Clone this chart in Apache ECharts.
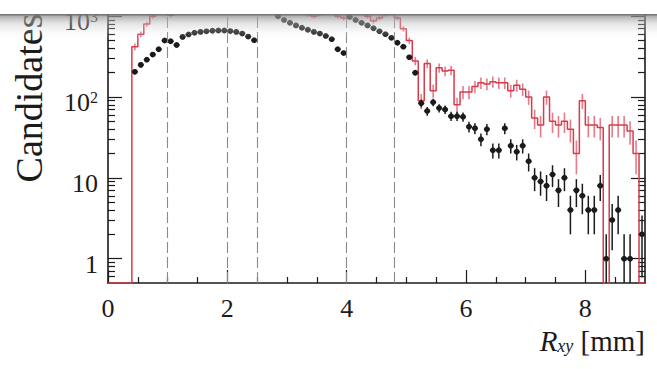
<!DOCTYPE html>
<html>
<head>
<meta charset="utf-8">
<script src="https://cdn.jsdelivr.net/npm/echarts@6/dist/echarts.min.js"></script>
<style>
  html, body { margin: 0; padding: 0; background: #fff; }
  #chart { width: 657px; height: 369px; }
</style>
</head>
<body>
<div id="chart"></div>
<script>
// Binning of the transverse decay radius R_xy (mm)
const X_MIN = 0, X_MAX = 9, BIN_WIDTH = 0.1;
const binCenters = Array.from({ length: 90 }, (_, i) => +(X_MIN + BIN_WIDTH * (i + 0.5)).toFixed(2));

// Vertical range of the log axis
const Y_MIN = 0.5, Y_MAX = 1065;

// Observed candidates per bin (null = empty bin)
const dataCounts = [
  null, null, null, null, 205, 250, 290, 335, 390, 500,
  490, 440, 555, 595, 625, 640, 650, 660, 665, 665,
  655, 640, 610, 560, 505, 1700, 1450, 1200, 1000, 900,
  830, 770, 720, 680, 640, 610, 570, 520, 390, 350,
  980, 900, 830, 770, 710, 650, 600, 540, 470, 420,
  310, 200, 84, 67, 86, 73, 70, 58, 58, 57,
  43, 41, 30, 40, 22, 22, 41, 25, 21, 25,
  16, 10, 9, 8, 11, 7, 10, 4, 7, 6,
  4, 4, 8, 1, 3, 4, 1, 1, null, 2
];

// Simulated candidates per bin
const simCounts = [
  0, 0, 0, 0, 420, 600, 800, 1000, 1300, 1500,
  1030, 1600, 1800, 2000, 2100, 2200, 2300, 2300, 2400, 2400,
  2400, 2300, 2200, 2100, 2000, 3000, 2800, 2500, 2200, 2000,
  1800, 1500, 1150, 1050, 1000, 1060, 1120, 1100, 1000, 950,
  1500, 1400, 1200, 1000, 870, 950, 1050, 1100, 950, 700,
  500, 280, 90, 260, 120, 230, 210, 215, 80, 115,
  115, 135, 150, 145, 155, 150, 150, 120, 140, 125,
  100, 55, 45, 100, 50, 45, 50, 40, 20, 90,
  45, 45, 42, 0, 45, 45, 45, 38, 20, 0
];
// Simulated events carry weight 4, so the bin error is sqrt(4 N)
const SIM_WEIGHT = 4;

// Boundaries between detector regions
const regionBoundaries = [1, 2, 2.5, 4, 4.8];

// Axis ticks
const xMajorTicks = [0, 2, 4, 6, 8];
const xMinorTicks = [0.5, 1, 1.5, 2.5, 3, 3.5, 4.5, 5, 5.5, 6.5, 7, 7.5, 8.5];
const yMajorTicks = [1, 10, 100, 1000];
const yMinorTicks = [0.6, 0.7, 0.8, 0.9, 2, 3, 4, 5, 6, 7, 8, 9,
  20, 30, 40, 50, 60, 70, 80, 90, 200, 300, 400, 500, 600, 700, 800, 900];

const FONT = '"Liberation Serif", "Times New Roman", serif';
const INK = '#1b1b1b';
const RED = '#d63c4c';
const RED_ERR = 'rgba(218, 60, 82, 0.68)';

const clampY = v => Math.min(Math.max(v, Y_MIN), Y_MAX);

const dataPoints = [];
binCenters.forEach((c, i) => { if (dataCounts[i] != null) dataPoints.push([c, dataCounts[i]]); });

const simErrPoints = [];
binCenters.forEach((c, i) => { if (simCounts[i] > 0) simErrPoints.push([c, simCounts[i]]); });

// Step outline of the simulation, closed at both frame edges
const simStep = [[X_MIN, clampY(simCounts[0])]];
binCenters.forEach((c, i) => simStep.push([c, Math.max(simCounts[i], Y_MIN)]));
simStep.push([X_MAX, Math.max(simCounts[simCounts.length - 1], Y_MIN)]);

function powerLabel(v) {
  const p = Math.round(Math.log10(v));
  if (p === 0) return '1';
  if (p === 1) return '10';
  return '10{sup|' + p + '}';
}

function renderData(params, api) {
  const x = api.value(0), v = api.value(1);
  if (!(v > 0) || v > Y_MAX) return null;
  const e = Math.sqrt(v);
  const top = api.coord([x, clampY(v + e)]);
  const bot = api.coord([x, clampY(v - e)]);
  const left = api.coord([x - BIN_WIDTH / 2, v]);
  const right = api.coord([x + BIN_WIDTH / 2, v]);
  const c = api.coord([x, v]);
  const st = { stroke: INK, lineWidth: 1.5 };
  return {
    type: 'group',
    children: [
      { type: 'line', shape: { x1: top[0], y1: top[1], x2: bot[0], y2: bot[1] }, style: st },
      { type: 'line', shape: { x1: left[0], y1: left[1], x2: right[0], y2: right[1] }, style: st },
      { type: 'circle', shape: { cx: c[0], cy: c[1], r: 2.9 }, style: { fill: INK } }
    ]
  };
}

function renderSimErr(params, api) {
  const x = api.value(0), v = api.value(1);
  if (!(v > 0) || v > Y_MAX * 1.3) return null;
  const e = Math.sqrt(SIM_WEIGHT * v);
  const top = api.coord([x, clampY(v + e)]);
  const bot = api.coord([x, clampY(v - e)]);
  return {
    type: 'line',
    shape: { x1: top[0], y1: top[1], x2: bot[0], y2: bot[1] },
    style: { stroke: RED_ERR, lineWidth: 1.6 }
  };
}

const axisLineStyle = { color: INK, width: 1.6 };
const tickStyle = { color: INK, width: 1.2 };

function yAxisDef(position, major) {
  return {
    type: 'log', logBase: 10, min: Y_MIN, max: Y_MAX, position,
    axisLine: { show: major, onZero: false, lineStyle: axisLineStyle },
    axisTick: { show: true, inside: true, length: major ? 14 : 7,
      customValues: major ? yMajorTicks : yMinorTicks, lineStyle: tickStyle },
    axisLabel: (major && position === 'left') ? {
      customValues: yMajorTicks, formatter: powerLabel, margin: 10,
      fontFamily: FONT, fontSize: 26, color: INK, padding: [11, 0, 0, 0],
      rich: { sup: { fontFamily: FONT, fontSize: 16, color: INK, verticalAlign: 'top' } }
    } : { show: false },
    splitLine: { show: false }
  };
}

const chart = echarts.init(document.getElementById('chart'), null, { renderer: 'svg' });
chart.setOption({
  animation: false,
  backgroundColor: '#fff',
  grid: { left: 108, right: 12, top: 14, bottom: 86, containLabel: false },
  xAxis: [
    {
      type: 'value', min: X_MIN, max: X_MAX, position: 'bottom',
      axisLine: { onZero: false, lineStyle: axisLineStyle },
      axisTick: { inside: true, length: 13, customValues: xMajorTicks, lineStyle: tickStyle },
      axisLabel: { customValues: xMajorTicks, margin: 12, fontFamily: FONT, fontSize: 26, color: INK },
      splitLine: { show: false },
      name: '{i|R}{sub|xy} [mm]', nameLocation: 'end', nameGap: 0,
      nameTextStyle: {
        fontFamily: FONT, fontSize: 29, color: INK, align: 'right', verticalAlign: 'top',
        padding: [43, 0, 0, 0],
        rich: {
          i: { fontFamily: FONT, fontStyle: 'italic', fontSize: 29, color: INK },
          sub: { fontFamily: FONT, fontStyle: 'italic', fontSize: 18, color: INK, verticalAlign: 'bottom' }
        }
      }
    },
    {
      type: 'value', min: X_MIN, max: X_MAX, position: 'bottom',
      axisLine: { show: false, onZero: false },
      axisTick: { inside: true, length: 6, customValues: xMinorTicks, lineStyle: tickStyle },
      axisLabel: { show: false },
      splitLine: { show: false }
    }
  ],
  yAxis: [
    yAxisDef('left', true),
    yAxisDef('left', false),
    yAxisDef('right', true),
    yAxisDef('right', false)
  ],
  series: [
    {
      name: 'boundaries', type: 'line', data: [], z: 1,
      markLine: {
        silent: true, symbol: 'none', label: { show: false },
        lineStyle: { color: '#8a8a8a', width: 1.1, type: [11, 4] },
        data: regionBoundaries.map(x => ({ xAxis: x }))
      }
    },
    {
      name: 'sim errors', type: 'custom', data: simErrPoints, renderItem: renderSimErr,
      encode: { x: 0, y: 1 }, clip: true, z: 2
    },
    {
      name: 'simulation', type: 'line', data: simStep, step: 'middle', showSymbol: false,
      symbol: 'none', lineStyle: { color: RED, width: 1.5 }, clip: true, z: 3
    },
    {
      name: 'data', type: 'custom', data: dataPoints, renderItem: renderData,
      encode: { x: 0, y: 1 }, clip: true, z: 4
    }
  ],
  graphic: [
    {
      type: 'text', x: 29, y: 98, rotation: Math.PI / 2, z: 50,
      style: {
        text: 'Candidates', fontFamily: FONT, fontSize: 38, fill: INK,
        align: 'center', verticalAlign: 'middle', textAlign: 'center', textVerticalAlign: 'middle'
      }
    },
    {
      type: 'rect', z: 100, shape: { x: 0, y: 0, width: 657, height: 14 },
      style: { fill: '#ffffff' }
    },
    {
      type: 'rect', z: 100, shape: { x: 0, y: 14, width: 657, height: 26 },
      style: {
        fill: new echarts.graphic.LinearGradient(0, 0, 0, 1, [
          { offset: 0, color: 'rgba(130,130,130,0.8)' },
          { offset: 0.35, color: 'rgba(190,190,190,0.45)' },
          { offset: 1, color: 'rgba(255,255,255,0)' }
        ])
      }
    },
    {
      type: 'rect', z: 101, shape: { x: 0, y: 14, width: 657, height: 1.5 },
      style: { fill: 'rgba(110,110,110,0.85)' }
    }
  ]
});
</script>
</body>
</html>
